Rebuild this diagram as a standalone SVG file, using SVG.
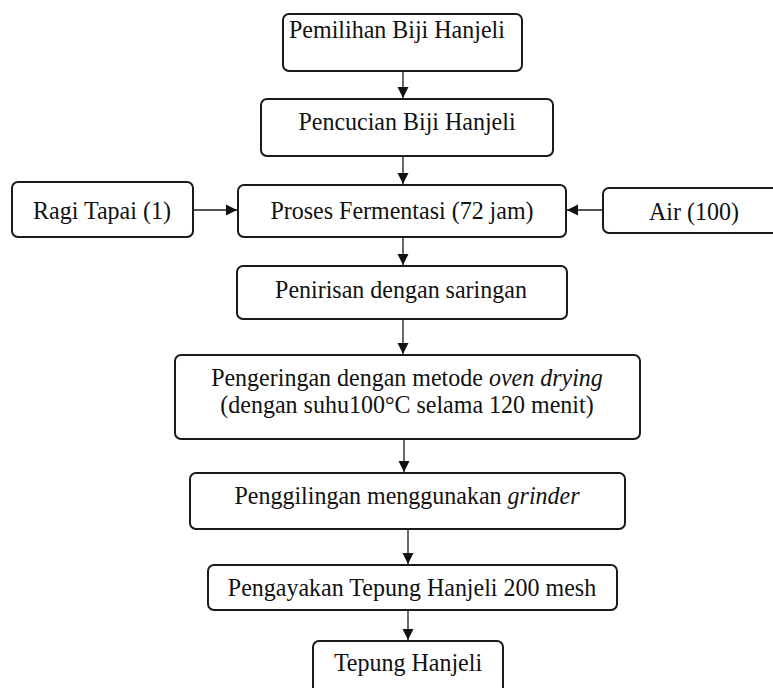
<svg xmlns="http://www.w3.org/2000/svg" width="773" height="688" viewBox="0 0 773 688">
<style>
.box{fill:#fff;stroke:#1a1a1a;stroke-width:2}
.t{font-family:"Liberation Serif","Times New Roman",serif;font-size:24px;fill:#111}
.c{text-anchor:middle}
.con{stroke:#1a1a1a;stroke-width:1.3;fill:none;marker-end:url(#ah)}
</style>
<defs>
<marker id="ah" markerUnits="userSpaceOnUse" markerWidth="12" markerHeight="12" refX="11" refY="5.5" orient="auto" viewBox="0 0 12 11">
<path d="M0,0 L11,5.5 L0,11 z" fill="#111"/>
</marker>
</defs>
<rect width="773" height="688" fill="#fff"/>
<g id="connectors">
<line class="con" x1="403" y1="71" x2="403" y2="98"/>
<line class="con" x1="403" y1="156" x2="403" y2="184"/>
<line class="con" x1="193" y1="210" x2="237" y2="210"/>
<line class="con" x1="603" y1="210" x2="567" y2="210"/>
<line class="con" x1="403" y1="237" x2="403" y2="265"/>
<line class="con" x1="403" y1="319" x2="403" y2="354"/>
<line class="con" x1="404" y1="439" x2="404" y2="472"/>
<line class="con" x1="408" y1="529" x2="408" y2="564"/>
<line class="con" x1="408" y1="610" x2="408" y2="640"/>
</g>
<g id="n1"><rect class="box" x="283" y="14" width="239" height="57" rx="6"/><text class="t" x="289" y="0" transform="translate(0,38) scale(1,1.07)">Pemilihan Biji Hanjeli</text></g>
<g id="n2"><rect class="box" x="261" y="99" width="292" height="57" rx="6"/><text class="t c" x="407" y="0" transform="translate(0,130) scale(1,1.07)">Pencucian Biji Hanjeli</text></g>
<g id="n3"><rect class="box" x="238" y="185" width="328" height="52" rx="6"/><text class="t c" x="402" y="0" transform="translate(0,219) scale(1,1.07)">Proses Fermentasi (72 jam)</text></g>
<g id="ragi"><rect class="box" x="12" y="182" width="181" height="55" rx="6"/><text class="t c" x="102" y="0" transform="translate(0,219) scale(1,1.07)">Ragi Tapai (1)</text></g>
<g id="air"><rect class="box" x="603" y="188" width="190" height="45" rx="6"/><text class="t c" x="694" y="0" transform="translate(0,220) scale(1,1.07)">Air (100)</text></g>
<g id="n4"><rect class="box" x="237" y="266" width="330" height="53" rx="6"/><text class="t c" x="401" y="0" transform="translate(0,298) scale(1,1.07)">Penirisan dengan saringan</text></g>
<g id="n5"><rect class="box" x="175" y="355" width="465" height="84" rx="6"/><text class="t c" x="407" y="0" transform="translate(0,386) scale(1,1.07)">Pengeringan dengan metode <tspan font-style="italic">oven drying</tspan></text><text class="t c" x="407" y="0" transform="translate(0,413) scale(1,1.07)">(dengan suhu100°C selama 120 menit)</text></g>
<g id="n6"><rect class="box" x="190" y="473" width="435" height="56" rx="6"/><text class="t c" x="407" y="0" transform="translate(0,504) scale(1,1.07)">Penggilingan menggunakan <tspan font-style="italic">grinder</tspan></text></g>
<g id="n7"><rect class="box" x="208" y="565" width="409" height="45" rx="6"/><text class="t c" x="412" y="0" transform="translate(0,596) scale(1,1.07)">Pengayakan Tepung Hanjeli 200 mesh</text></g>
<g id="n8"><rect class="box" x="313" y="641" width="190" height="60" rx="6"/><text class="t c" x="408" y="0" transform="translate(0,671) scale(1,1.07)">Tepung Hanjeli</text></g>
</svg>
